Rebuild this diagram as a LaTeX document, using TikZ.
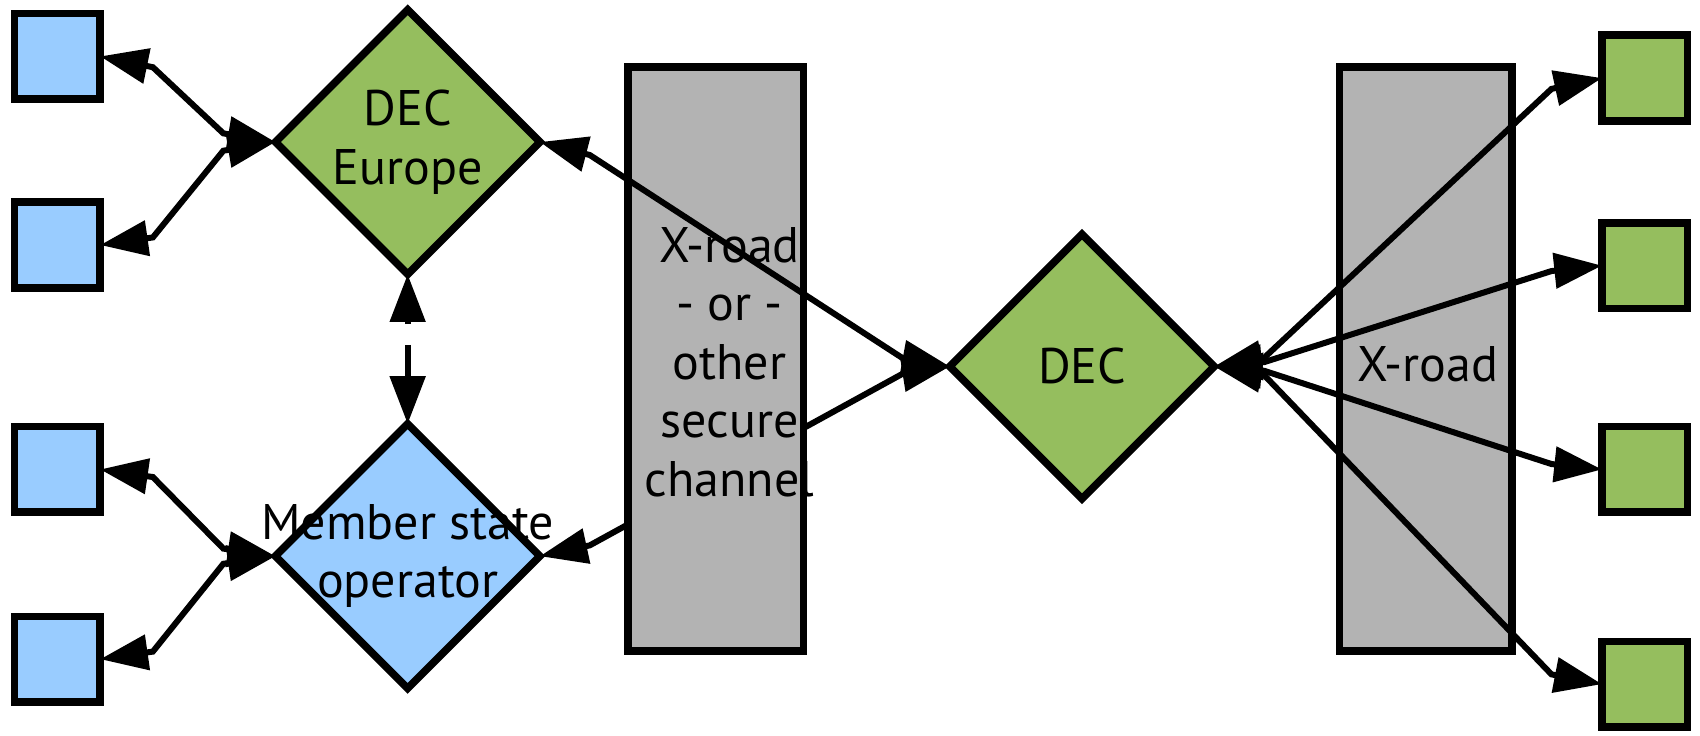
\documentclass[tikz,border=0pt]{standalone}
\usepackage{fontspec}
\setmainfont{PT Sans}
\usetikzlibrary{arrows.meta,shapes.geometric}
\definecolor{lightblue}{RGB}{153,204,255}
\definecolor{leafgreen}{RGB}{149,190,94}
\definecolor{boxgray}{RGB}{179,179,179}
\tikzset{
  sq/.style={draw,line width=7.6pt,minimum size=85.6pt,inner sep=0,outer sep=0},
  bluesq/.style={sq,fill=lightblue},
  greensq/.style={sq,fill=leafgreen},
  dmd/.style={diamond,draw,line width=7.6pt,minimum width=264.5pt,minimum height=264.5pt,
    inner sep=0,outer sep=0,label={[align=center]center:#1}},
  channel/.style={draw,fill=boxgray,line width=7.6pt,minimum height=584pt,inner sep=0,outer sep=0},
  link/.style={line width=6pt,line join=miter},
  >={Triangle[length=47.7pt,width=34.7pt]}
}
\begin{document}
\begin{tikzpicture}[x=1.0842pt,y=-1.0842pt,font=\fontsize{50}{58.5}\selectfont]
  \useasboundingbox (0,0) rectangle (1568,678);

  \node[bluesq] (b1) at (53,52) {};
  \node[bluesq] (b2) at (53,226) {};
  \node[bluesq] (b3) at (53,433) {};
  \node[bluesq] (b4) at (53,608) {};
  \node[greensq] (g1) at (1517,72) {};
  \node[greensq] (g2) at (1517,245) {};
  \node[greensq] (g3) at (1517,433) {};
  \node[greensq] (g4) at (1517,631) {};

  \node[dmd={DEC\\Europe},fill=leafgreen] (dece) at (376,131) {};
  \node[dmd={Member state\\operator},fill=lightblue] (mso) at (376,513) {};
  \node[dmd=DEC,fill=leafgreen] (dec) at (998,338) {};

  % this one passes behind the channel box
  \draw[link,<->] (mso.east) -- (544,503) -- (832,345) -- (dec.west);
  \node[channel,minimum width=175.6pt,
    label={[xshift=14pt,yshift=-3pt,align=center]center:X-road\\- or -\\other\\secure\\channel}] (xr1) at (660,331) {};
  \node[channel,minimum width=172.4pt,label={[xshift=2pt,yshift=-5pt]center:X-road}] (xr2) at (1315,331) {};
  \draw[link,<->] (dece.east) -- (544,143) -- (832,330) -- (dec.west);

  \draw[link,<->] (b1.east) -- (141,62) -- (206,123) -- (dece.west);
  \draw[link,<->] (b2.east) -- (141,219) -- (206,139) -- (dece.west);
  \draw[link,<->] (b3.east) -- (141,440) -- (206,506) -- (mso.west);
  \draw[link,<->] (b4.east) -- (141,601) -- (206,520) -- (mso.west);

  \coordinate (uphead) at (376,299);
  \coordinate (gap) at (376,318);
  \draw[link,->] (uphead) -- (dece.south);
  \draw[link,->] (gap) -- (mso.north);

  \draw[link,<->] (dec.east) -- (1166,330) -- (1431,82) -- (g1.west);
  \draw[link,<->] (dec.east) -- (1166,334) -- (1431,250) -- (g2.west);
  \draw[link,<->] (dec.east) -- (1166,342) -- (1431,428) -- (g3.west);
  \draw[link,<->] (dec.east) -- (1166,346) -- (1431,622) -- (g4.west);
\end{tikzpicture}
\end{document}
